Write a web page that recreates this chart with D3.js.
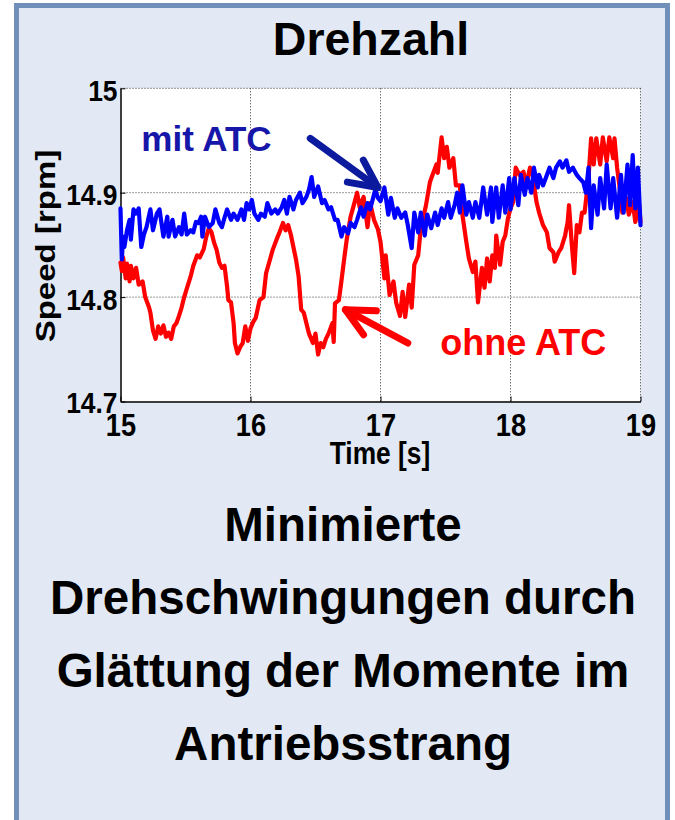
<!DOCTYPE html>
<html>
<head>
<meta charset="utf-8">
<script src="https://cdn.jsdelivr.net/npm/d3@7"></script>
<style>
  html, body { margin: 0; padding: 0; background: #ffffff; }
  svg text { font-family: "Liberation Sans", Arial, Helvetica, sans-serif; font-weight: bold; }
</style>
</head>
<body>
<svg id="chart" width="675" height="820"></svg>
<script>
// ---------------- data ----------------
const xTicks = [15, 16, 17, 18, 19];
const yTicks = [14.7, 14.8, 14.9, 15];
const xGrid = [16, 17, 18, 19];
const yGrid = [14.8, 14.9, 15];
const titleText = "Drehzahl";
const xLabel = "Time [s]";
const yLabel = "Speed [rpm]";
const captionLines = ["Minimierte", "Drehschwingungen durch", "Glättung der Momente im", "Antriebsstrang"];
const seriesNames = ["ohne ATC", "mit ATC"];

// ohne ATC (red): [time s, speed rpm]
const ohneATC = [[15.00,14.833],[15.01,14.825],[15.02,14.838],[15.04,14.818],[15.05,14.832],[15.07,14.815],[15.08,14.830],[15.10,14.818],[15.12,14.828],[15.14,14.812],[15.17,14.815],[15.19,14.800],[15.22,14.790],[15.23,14.785],[15.25,14.768],[15.27,14.760],[15.29,14.772],[15.31,14.765],[15.33,14.773],[15.35,14.762],[15.37,14.766],[15.39,14.760],[15.41,14.772],[15.43,14.775],[15.45,14.782],[15.47,14.790],[15.49,14.800],[15.51,14.808],[15.54,14.820],[15.56,14.830],[15.59,14.840],[15.61,14.838],[15.64,14.846],[15.66,14.858],[15.68,14.866],[15.70,14.862],[15.72,14.852],[15.74,14.845],[15.76,14.833],[15.78,14.828],[15.80,14.830],[15.82,14.810],[15.83,14.797],[15.85,14.795],[15.87,14.775],[15.88,14.756],[15.90,14.746],[15.92,14.752],[15.94,14.756],[15.96,14.772],[15.98,14.758],[16.00,14.770],[16.02,14.776],[16.04,14.780],[16.07,14.797],[16.10,14.800],[16.12,14.823],[16.15,14.836],[16.17,14.845],[16.20,14.855],[16.22,14.861],[16.25,14.871],[16.27,14.864],[16.29,14.869],[16.31,14.860],[16.33,14.848],[16.35,14.836],[16.37,14.820],[16.39,14.788],[16.41,14.785],[16.43,14.775],[16.45,14.765],[16.48,14.756],[16.50,14.765],[16.52,14.745],[16.54,14.756],[16.56,14.752],[16.58,14.760],[16.60,14.765],[16.63,14.775],[16.64,14.757],[16.65,14.794],[16.68,14.797],[16.70,14.816],[16.72,14.836],[16.74,14.855],[16.77,14.877],[16.79,14.886],[16.82,14.900],[16.84,14.886],[16.87,14.896],[16.90,14.867],[16.92,14.890],[16.95,14.874],[16.98,14.865],[17.00,14.853],[17.03,14.818],[17.04,14.840],[17.07,14.802],[17.10,14.815],[17.12,14.795],[17.15,14.782],[17.17,14.805],[17.19,14.781],[17.22,14.812],[17.24,14.790],[17.26,14.831],[17.29,14.840],[17.31,14.866],[17.35,14.888],[17.38,14.910],[17.40,14.917],[17.43,14.927],[17.44,14.919],[17.47,14.953],[17.49,14.933],[17.51,14.944],[17.53,14.924],[17.56,14.933],[17.58,14.907],[17.61,14.907],[17.63,14.879],[17.66,14.853],[17.68,14.837],[17.71,14.824],[17.73,14.834],[17.75,14.795],[17.78,14.828],[17.80,14.809],[17.82,14.837],[17.84,14.815],[17.86,14.840],[17.88,14.828],[17.89,14.859],[17.92,14.831],[17.94,14.853],[17.96,14.859],[17.98,14.875],[18.00,14.885],[18.02,14.891],[18.04,14.924],[18.07,14.917],[18.10,14.920],[18.12,14.907],[18.15,14.924],[18.17,14.917],[18.20,14.891],[18.22,14.881],[18.25,14.869],[18.28,14.862],[18.30,14.847],[18.33,14.843],[18.34,14.834],[18.37,14.843],[18.39,14.847],[18.42,14.859],[18.44,14.872],[18.45,14.888],[18.47,14.853],[18.49,14.823],[18.51,14.869],[18.53,14.862],[18.55,14.881],[18.57,14.881],[18.60,14.914],[18.62,14.952],[18.64,14.927],[18.66,14.952],[18.69,14.927],[18.71,14.953],[18.74,14.930],[18.76,14.953],[18.79,14.933],[18.80,14.952],[18.82,14.924],[18.85,14.895],[18.86,14.881],[18.89,14.895],[18.91,14.879],[18.94,14.891],[18.96,14.872],[18.99,14.888],[19.00,14.872]];

// mit ATC (blue): [time s, speed rpm]
const mitATC = [[15.00,14.885],[15.01,14.836],[15.02,14.858],[15.03,14.848],[15.05,14.864],[15.07,14.874],[15.08,14.855],[15.10,14.884],[15.12,14.880],[15.14,14.885],[15.16,14.848],[15.18,14.860],[15.20,14.867],[15.23,14.884],[15.25,14.864],[15.28,14.880],[15.30,14.884],[15.33,14.858],[15.36,14.877],[15.37,14.858],[15.40,14.874],[15.42,14.858],[15.45,14.867],[15.47,14.860],[15.49,14.880],[15.51,14.860],[15.54,14.864],[15.56,14.862],[15.58,14.872],[15.60,14.871],[15.62,14.877],[15.63,14.858],[15.65,14.877],[15.68,14.867],[15.71,14.871],[15.73,14.884],[15.76,14.871],[15.78,14.867],[15.80,14.876],[15.82,14.884],[15.85,14.874],[15.87,14.880],[15.90,14.874],[15.93,14.884],[15.95,14.874],[15.97,14.890],[15.99,14.884],[16.01,14.893],[16.03,14.880],[16.06,14.874],[16.08,14.880],[16.11,14.877],[16.13,14.890],[16.16,14.880],[16.19,14.884],[16.21,14.880],[16.24,14.886],[16.26,14.893],[16.28,14.880],[16.30,14.896],[16.33,14.884],[16.35,14.893],[16.38,14.900],[16.40,14.890],[16.43,14.896],[16.45,14.903],[16.47,14.915],[16.49,14.896],[16.52,14.906],[16.55,14.890],[16.57,14.893],[16.60,14.884],[16.62,14.886],[16.65,14.874],[16.67,14.874],[16.70,14.858],[16.72,14.867],[16.75,14.861],[16.77,14.871],[16.80,14.867],[16.82,14.874],[16.85,14.886],[16.87,14.877],[16.90,14.890],[16.92,14.884],[16.96,14.903],[16.98,14.895],[17.00,14.892],[17.03,14.905],[17.06,14.879],[17.08,14.895],[17.11,14.876],[17.13,14.885],[17.16,14.876],[17.19,14.881],[17.21,14.869],[17.24,14.847],[17.26,14.881],[17.29,14.862],[17.31,14.881],[17.34,14.859],[17.36,14.879],[17.39,14.866],[17.42,14.881],[17.44,14.869],[17.47,14.885],[17.49,14.876],[17.52,14.891],[17.54,14.876],[17.57,14.888],[17.59,14.900],[17.61,14.881],[17.63,14.907],[17.66,14.879],[17.68,14.891],[17.71,14.876],[17.73,14.891],[17.76,14.876],[17.79,14.905],[17.82,14.879],[17.85,14.905],[17.86,14.872],[17.89,14.905],[17.91,14.876],[17.94,14.907],[17.96,14.881],[17.99,14.914],[18.00,14.884],[18.03,14.914],[18.06,14.888],[18.08,14.917],[18.11,14.898],[18.13,14.914],[18.16,14.900],[18.18,14.924],[18.21,14.905],[18.22,14.917],[18.25,14.907],[18.28,14.917],[18.30,14.924],[18.33,14.914],[18.35,14.924],[18.38,14.930],[18.40,14.924],[18.43,14.931],[18.45,14.920],[18.48,14.924],[18.51,14.917],[18.53,14.914],[18.56,14.910],[18.58,14.900],[18.60,14.924],[18.62,14.866],[18.64,14.907],[18.67,14.879],[18.69,14.914],[18.72,14.885],[18.74,14.927],[18.77,14.885],[18.79,14.914],[18.82,14.876],[18.85,14.917],[18.87,14.881],[18.90,14.927],[18.92,14.888],[18.94,14.936],[18.96,14.885],[18.98,14.924],[19.00,14.869]];

// annotation anchors in data units: [tail time, tail speed, tip time, tip speed]
const mitArrow = [16.46, 14.952, 16.98, 14.905];
const ohneArrow = [17.21, 14.756, 16.73, 14.788];
const mitLabelPos = [15.16, 14.940];
const ohneLabelPos = [17.46, 14.745];

// ---------------- drawing ----------------
const svg = d3.select("#chart");
const plot = { left: 120.5, right: 640.5, top: 88.3, bottom: 401.5 };

const x = d3.scaleLinear().domain([15, 19]).range([plot.left, plot.right]);
const y = d3.scaleLinear().domain([14.7, 15]).range([plot.bottom, plot.top]);

// panel
svg.append("rect")
  .attr("x", 16.5).attr("y", 5.5).attr("width", 651).attr("height", 840)
  .attr("fill", "#e2e9f4").attr("stroke", "#7190b9").attr("stroke-width", 5);

// title
svg.append("text").attr("x", 371).attr("y", 55).attr("text-anchor", "middle")
  .attr("font-size", 46.5).attr("fill", "#000").text(titleText);

// plot background
svg.append("rect")
  .attr("x", plot.left).attr("y", plot.top)
  .attr("width", plot.right - plot.left).attr("height", plot.bottom - plot.top)
  .attr("fill", "#ffffff");

// grid
const grid = svg.append("g").attr("stroke", "#000").attr("stroke-width", 1)
  .attr("stroke-dasharray", "1,2").attr("opacity", 0.8);
grid.selectAll("line.v").data(xGrid).join("line").attr("class", "v")
  .attr("x1", d => x(d)).attr("x2", d => x(d)).attr("y1", plot.top).attr("y2", plot.bottom);
grid.selectAll("line.h").data(yGrid).join("line").attr("class", "h")
  .attr("x1", plot.left).attr("x2", plot.right).attr("y1", d => y(d)).attr("y2", d => y(d));

// axes
const yAxis = d3.axisLeft(y).tickValues(yTicks).tickSizeInner(-5).tickSizeOuter(0)
  .tickFormat(d => d === 15 ? "15" : d3.format(".1f")(d));
const gy = svg.append("g").attr("transform", `translate(${plot.left},0)`).call(yAxis);
gy.select(".domain").attr("stroke", "#000").attr("stroke-width", 1.5);
gy.selectAll(".tick line").attr("stroke", "#000");
gy.selectAll(".tick text")
  .attr("font-size", 30).attr("fill", "#000").attr("font-family", null)
  .attr("text-anchor", "end")
  .attr("x", -3 / 0.88).attr("dy", null).attr("y", d => d === 14.7 ? 10.5 : 12)
  .attr("transform", "scale(0.88,1)");

const xAxis = d3.axisBottom(x).tickValues(xTicks).tickSizeInner(-5).tickSizeOuter(0)
  .tickFormat(d3.format("d"));
const gx = svg.append("g").attr("transform", `translate(0,${plot.bottom})`).call(xAxis);
gx.select(".domain").attr("stroke", "#000").attr("stroke-width", 1.5);
gx.selectAll(".tick line").attr("stroke", "#000");
gx.selectAll(".tick text")
  .attr("font-size", 32).attr("fill", "#000").attr("font-family", null)
  .attr("x", 0).attr("dy", null).attr("y", 35)
  .attr("transform", "scale(0.85,1)");

// axis labels
svg.append("text").attr("transform", "translate(380,464) scale(0.85,1)")
  .attr("text-anchor", "middle").attr("font-size", 31).attr("fill", "#000").text(xLabel);
svg.append("text").attr("transform", "translate(55,246) rotate(-90) scale(1.18,1)")
  .attr("text-anchor", "middle").attr("font-size", 28).attr("fill", "#000").text(yLabel);

// series
const line = d3.line().x(d => x(d[0])).y(d => y(d[1]));
svg.append("path").datum(ohneATC).attr("d", line)
  .attr("fill", "none").attr("stroke", "#ff0000").attr("stroke-width", 4.2)
  .attr("stroke-linejoin", "round").attr("stroke-linecap", "round");
svg.append("path").datum(mitATC).attr("d", line)
  .attr("fill", "none").attr("stroke", "#0000ff").attr("stroke-width", 4.2)
  .attr("stroke-linejoin", "round").attr("stroke-linecap", "round");

// annotation arrows
function drawArrow(a, color) {
  const x0 = x(a[0]), y0 = y(a[1]), x1 = x(a[2]), y1 = y(a[3]);
  const ang = Math.atan2(y0 - y1, x0 - x1);
  const L = 31, half = 26 * Math.PI / 180;
  const w1 = [x1 + L * Math.cos(ang - half), y1 + L * Math.sin(ang - half)];
  const w2 = [x1 + L * Math.cos(ang + half), y1 + L * Math.sin(ang + half)];
  const g = svg.append("g").attr("stroke", color).attr("stroke-width", 7)
    .attr("stroke-linecap", "round").attr("stroke-linejoin", "round").attr("fill", "none");
  g.append("line").attr("x1", x0).attr("y1", y0).attr("x2", x1).attr("y2", y1);
  g.append("path").attr("d", `M${w1[0]},${w1[1]} L${x1},${y1} L${w2[0]},${w2[1]}`);
}
drawArrow(mitArrow, "#0c1b9e");
drawArrow(ohneArrow, "#ff0000");

// annotation labels
svg.append("text").attr("x", x(mitLabelPos[0])).attr("y", y(mitLabelPos[1]))
  .attr("font-size", 35).attr("fill", "#1616a8").text(seriesNames[1]);
svg.append("text").attr("x", x(ohneLabelPos[0])).attr("y", y(ohneLabelPos[1]))
  .attr("font-size", 36).attr("fill", "#ff0000").text(seriesNames[0]);

// caption
const baselines = [541, 614, 687, 760];
svg.selectAll("text.caption").data(captionLines).join("text").attr("class", "caption")
  .attr("x", 343).attr("y", (d, i) => baselines[i]).attr("text-anchor", "middle")
  .attr("font-size", 47.5).attr("fill", "#000").text(d => d);
</script>
</body>
</html>
